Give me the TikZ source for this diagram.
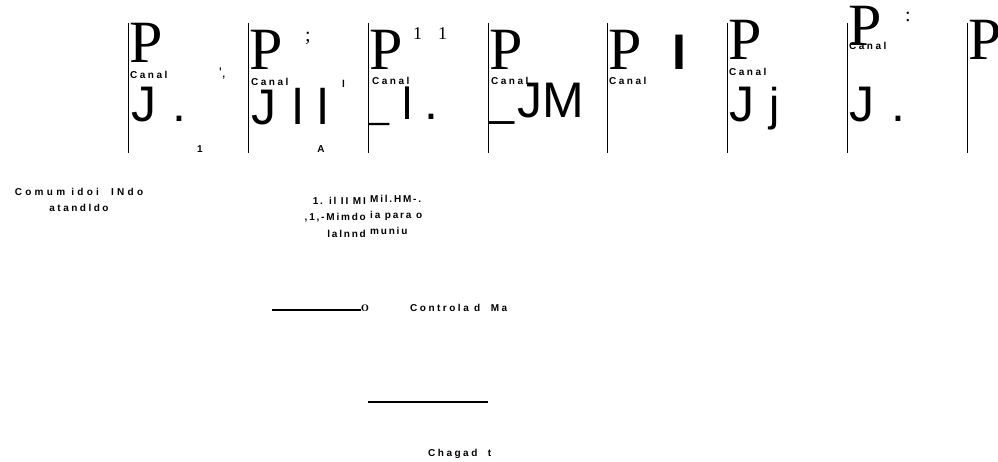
\documentclass[tikz,border=0pt]{standalone}
\usepackage{fontspec}
\setmainfont{Liberation Serif}
\newfontfamily\sansglyph{Liberation Sans}
\newfontfamily\spacedsans[LetterSpace=25]{Liberation Sans}
\newfontfamily\widesans[LetterSpace=33]{Liberation Sans}
\newfontfamily\narrowsans[LetterSpace=18]{Liberation Sans}

\begin{document}
\begin{tikzpicture}[x=1pt,y=-1pt,
    bigp/.style={anchor=base west,inner sep=0pt,font=\fontsize{60}{60}\selectfont},
    canal/.style={anchor=base west,inner sep=0pt,font=\spacedsans\bfseries\fontsize{10}{10}\selectfont},
    glyph/.style={anchor=base west,inner sep=0pt,font=\sansglyph\fontsize{#1}{#1}\selectfont},
    glyph/.default=50,
    serifmark/.style={anchor=base west,inner sep=0pt,font=\fontsize{#1}{#1}\selectfont},
    note/.style={inner sep=0pt,font=\spacedsans\bfseries\fontsize{10}{16.5}\selectfont}]
  \useasboundingbox (0,0) rectangle (998,462);
  % channel rules with their big P
  \foreach \x/\b [count=\i] in {128/63,248/70,368/70,488/70,607/70,727/60,847/46,967/60}{
    \draw[line width=1pt] (\x,23) -- (\x,153);
    \node[bigp] (P\i) at (\x+1,\b) {P};
  }
  \node[canal] (c1) at (130,79) {Canal};
  \node[canal] (c2) at (251,86) {Canal};
  \node[canal] (c3) at (372,85) {Canal};
  \node[canal] (c4) at (491,85) {Canal};
  \node[canal] (c5) at (609,85) {Canal};
  \node[canal] (c6) at (729,76) {Canal};
  \node[canal] (c7) at (849,50) {Canal};
  % panel 1
  \node[glyph] (j1) at (131,122) {J};
  \node[glyph] (d1) at (172,122) {.};
  \node[glyph=14] (q1) at (219,78) {',};
  \node[note,anchor=base] (n1) at (200,153) {1};
  % panel 2
  \node[serifmark=20] (s2) at (305,42) {;};
  \node[glyph] (j2) at (251,125) {J};
  \node[glyph] (l2a) at (292,125) {l};
  \node[glyph] (l2b) at (317,125) {l};
  \node[note,anchor=base west] (b2) at (342,88) {l};
  \node[note,anchor=base] (n2) at (321,153) {A};
  % panel 3
  \node[serifmark=18] (s3a) at (413,40) {1};
  \node[serifmark=18] (s3b) at (438,40) {1};
  \node[glyph=36] (u3) at (369,119) {\_};
  \node[glyph=45] (l3) at (402,120) {l};
  \node[glyph] (d3) at (424,120) {.};
  % panel 4
  \node[glyph=45] (u4) at (489,116) {\_};
  \node[glyph] (jm4) at (517,118) {JM};
  % panel 5
  \node[glyph,font=\sansglyph\bfseries\fontsize{50}{50}\selectfont] (i5) at (672,70) {I};
  % panel 6
  \node[glyph] (j6) at (729,122) {J};
  \node[glyph=46] (jj6) at (769,121) {j};
  % panel 7
  \node[serifmark=20] (s7) at (905,22) {:};
  \node[glyph] (j7) at (849,122) {J};
  \node[glyph] (d7) at (891,122) {.};
  % notes below
  \node[note,align=center] (cum) at (79,200) {{\widesans Comum\ idoi\ \ INdo}\\atandldo};
  \node[note,align=right,anchor=east,font=\narrowsans\bfseries\fontsize{10}{16.5}\selectfont] (ml) at (366,217) {1. il II MI\\,1,-Mimdo\\lalnnd};
  \node[note,align=left,anchor=west,font=\narrowsans\bfseries\fontsize{10}{16}\selectfont] (mr) at (370,215) {Mil.HM-.\\ia para o\\muniu};
  \coordinate (a1) at (272,310);
  \node[inner sep=0pt,font=\bfseries\fontsize{10}{10}\selectfont] (o1) at (365,308) {O};
  \draw[line width=2pt] (a1) -- (a1 -| o1.west);
  \node[note,anchor=west] (ctl) at (410,308) {Controla d\ \ Ma};
  \coordinate (b1) at (368,402);
  \coordinate (b2) at (488,402);
  \draw[line width=1.2pt] (b1) -- (b2);
  \node[note,anchor=west] (chg) at (428,454) {Chagad\ \ t};
\end{tikzpicture}
\end{document}
